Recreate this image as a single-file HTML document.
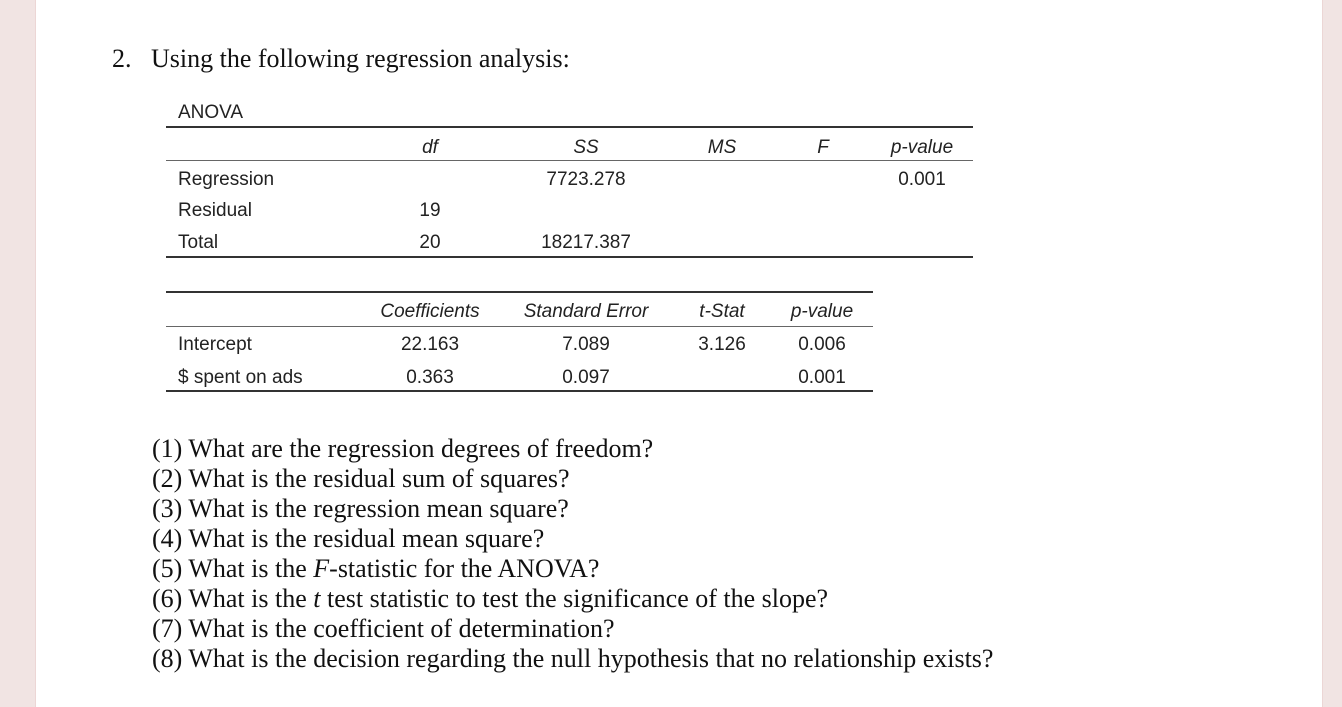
<!DOCTYPE html>
<html><head><meta charset="utf-8"><style>
body{margin:0;width:1342px;height:707px;background:#f1e4e3;position:relative;overflow:hidden}
#page{position:absolute;left:35px;top:0;width:1286px;height:707px;background:#fff;border-left:1px solid #ecd6d5;border-right:1px solid #ecd6d5}
.t{position:absolute;font-family:"Liberation Sans",sans-serif;font-size:19px;color:#222;white-space:nowrap;line-height:24px}
.c{transform:translateX(-50%)}
.i{font-style:italic}
.ln{position:absolute;background:#333}
.s{position:absolute;font-family:"Liberation Serif",serif;color:#111;white-space:nowrap}
</style></head><body>
<div id="page"></div>
<div class="s" style="left:112px;top:44px;font-size:26px">2.&nbsp;&nbsp;&nbsp;Using the following regression analysis:</div>

<div>
<div class="t" style="left:178px;top:101px">ANOVA</div>
<div class="ln" style="left:166px;top:126px;width:807px;height:2px"></div>
<div class="ln" style="left:166px;top:160px;width:807px;height:1px;background:#666"></div>
<div class="ln" style="left:166px;top:256px;width:807px;height:2px"></div>
<div class="t c i" style="left:430px;top:136px">df</div>
<div class="t c i" style="left:586px;top:136px">SS</div>
<div class="t c i" style="left:722px;top:136px">MS</div>
<div class="t c i" style="left:823px;top:136px">F</div>
<div class="t c i" style="left:922px;top:136px">p-value</div>
<div class="t" style="left:178px;top:168px">Regression</div>
<div class="t c" style="left:586px;top:168px">7723.278</div>
<div class="t c" style="left:922px;top:168px">0.001</div>
<div class="t" style="left:178px;top:199px">Residual</div>
<div class="t c" style="left:430px;top:199px">19</div>
<div class="t" style="left:178px;top:231px">Total</div>
<div class="t c" style="left:430px;top:231px">20</div>
<div class="t c" style="left:586px;top:231px">18217.387</div>
</div>

<div>
<div class="ln" style="left:166px;top:291px;width:707px;height:2px"></div>
<div class="ln" style="left:166px;top:326px;width:707px;height:1px;background:#666"></div>
<div class="ln" style="left:166px;top:390px;width:707px;height:2px"></div>
<div class="t c i" style="left:430px;top:300px">Coefficients</div>
<div class="t c i" style="left:586px;top:300px">Standard Error</div>
<div class="t c i" style="left:722px;top:300px">t-Stat</div>
<div class="t c i" style="left:822px;top:300px">p-value</div>
<div class="t" style="left:178px;top:333px">Intercept</div>
<div class="t c" style="left:430px;top:333px">22.163</div>
<div class="t c" style="left:586px;top:333px">7.089</div>
<div class="t c" style="left:722px;top:333px">3.126</div>
<div class="t c" style="left:822px;top:333px">0.006</div>
<div class="t" style="left:178px;top:366px">$ spent on ads</div>
<div class="t c" style="left:430px;top:366px">0.363</div>
<div class="t c" style="left:586px;top:366px">0.097</div>
<div class="t c" style="left:822px;top:366px">0.001</div>
</div>

<div class="s" style="left:152px;top:434px;font-size:26px;line-height:30px">
(1) What are the regression degrees of freedom?<br>
(2) What is the residual sum of squares?<br>
(3) What is the regression mean square?<br>
(4) What is the residual mean square?<br>
(5) What is the <i>F</i>-statistic for the ANOVA?<br>
(6) What is the <i>t</i> test statistic to test the significance of the slope?<br>
(7) What is the coefficient of determination?<br>
(8) What is the decision regarding the null hypothesis that no relationship exists?
</div>
</body></html>
